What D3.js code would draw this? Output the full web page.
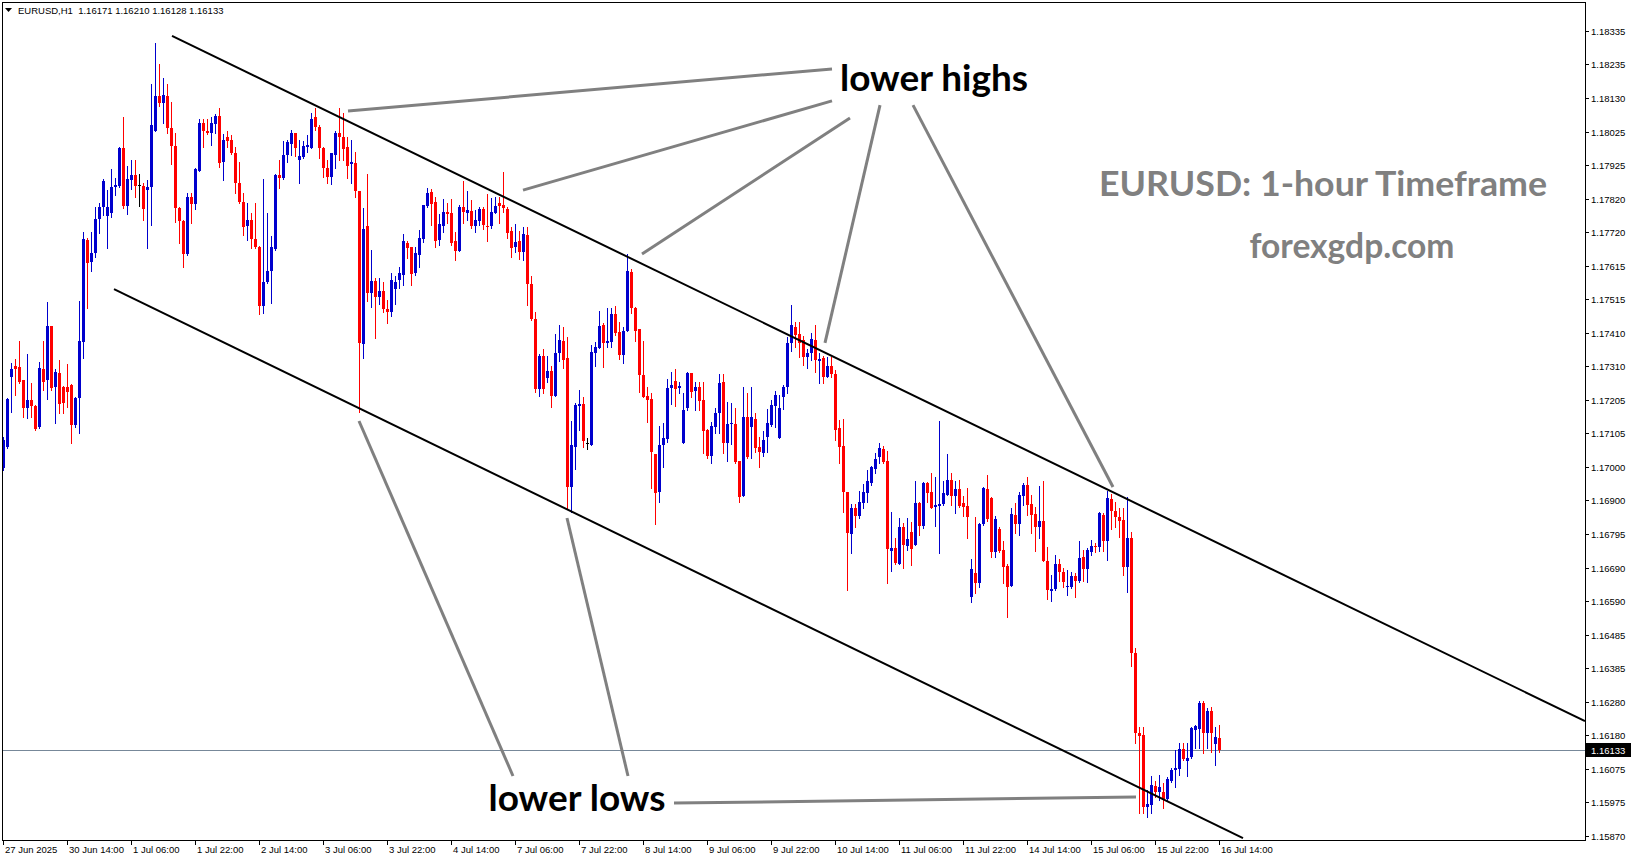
<!DOCTYPE html>
<html><head><meta charset="utf-8">
<script src="https://cdn.jsdelivr.net/npm/d3@7"></script>
<style>html,body{margin:0;padding:0;background:#fff;overflow:hidden}</style>
</head><body><svg id="chart" width="1631" height="861"></svg>
<script>
const symbol = "EURUSD", timeframe = "H1";
const startTime = "2025-06-27T22:00:00Z";

const opens = [
1.16997,1.17061,1.17276,1.17309,1.17306,1.17266,1.17181,1.17205,1.17187,1.17122,
1.17300,1.17266,1.17432,1.17245,1.17288,1.17245,1.17245,1.17251,1.17129,1.17211,
1.17383,1.17695,1.17628,1.17655,1.17759,1.17796,1.17769,1.17778,1.17857,1.17860,
1.17977,1.17799,1.17879,1.17894,1.17863,1.17860,1.17848,1.17857,1.18029,1.18136,
1.18115,1.18136,1.18038,1.17983,1.17793,1.17753,1.17652,1.17827,1.17805,1.17906,
1.18053,1.18029,1.18023,1.18050,1.18075,1.17934,1.18011,1.18001,1.17961,1.17870,
1.17811,1.17738,1.17756,1.17698,1.17674,1.17493,1.17567,1.17600,1.17668,1.17894,
1.17885,1.17955,1.17989,1.18023,1.17940,1.17949,1.17980,1.17977,1.18072,1.18041,
1.17977,1.17916,1.17888,1.17955,1.18023,1.18011,1.17980,1.17928,1.17931,1.17845,
1.17377,1.17738,1.17533,1.17570,1.17521,1.17539,1.17484,1.17475,1.17545,1.17573,
1.17588,1.17686,1.17674,1.17594,1.17649,1.17698,1.17799,1.17842,1.17811,1.17695,
1.17738,1.17781,1.17778,1.17692,1.17662,1.17796,1.17778,1.17784,1.17738,1.17753,
1.17790,1.17738,1.17738,1.17778,1.17808,1.17802,1.17790,1.17723,1.17674,1.17692,
1.17658,1.17710,1.17560,1.17453,1.17239,1.17340,1.17273,1.17294,1.17218,1.17349,
1.17386,1.17334,1.16939,1.17061,1.17187,1.17193,1.17074,1.17067,1.17349,1.17364,
1.17435,1.17380,1.17383,1.17469,1.17413,1.17343,1.17416,1.17597,1.17487,1.17423,
1.17282,1.17217,1.17208,1.17040,1.16923,1.17067,1.17086,1.17242,1.17263,1.17242,
1.17074,1.17181,1.17288,1.17233,1.17245,1.17205,1.17113,1.17034,1.17122,1.17165,
1.17260,1.17074,1.17132,1.17132,1.17019,1.16911,1.17153,1.17122,1.17147,1.17061,
1.17043,1.17092,1.17129,1.17187,1.17089,1.17214,1.17245,1.17380,1.17429,1.17407,
1.17389,1.17337,1.17349,1.17389,1.17325,1.17334,1.17276,1.17309,1.17285,1.17120,
1.17064,1.16923,1.16795,1.16875,1.16850,1.16890,1.16920,1.16951,1.16994,1.17031,
1.17055,1.17019,1.16743,1.16752,1.16703,1.16816,1.16758,1.16801,1.16761,1.16890,
1.16819,1.16951,1.16923,1.16878,1.16881,1.16887,1.16914,1.16960,1.16911,1.16933,
1.16890,1.16881,1.16602,1.16675,1.16645,1.16826,1.16933,1.16905,1.16740,1.16810,
1.16746,1.16697,1.16636,1.16853,1.16826,1.16911,1.16945,1.16887,1.16856,1.16816,
1.16835,1.16712,1.16620,1.16626,1.16703,1.16679,1.16633,1.16633,1.16666,1.16651,
1.16724,1.16688,1.16740,1.16758,1.16755,1.16853,1.16773,1.16902,1.16865,1.16847,
1.16838,1.16694,1.16783,1.16431,1.16186,1.16180,1.15959,1.15965,1.16023,1.16005,
1.16005,1.15983,1.16039,1.16072,1.16076,1.16137,1.16100,1.16112,1.16195,1.16198,
1.16278,1.16186,1.16253,1.16152,1.16171];

const highs = [
1.17092,1.17211,1.17318,1.17331,1.17386,1.17266,1.17346,1.17257,1.17190,1.17321,
1.17386,1.17505,1.17432,1.17300,1.17328,1.17248,1.17315,1.17254,1.17214,1.17508,
1.17720,1.17701,1.17720,1.17796,1.17808,1.17882,1.17848,1.17913,1.17885,1.17980,
1.18072,1.17922,1.17940,1.17940,1.17897,1.17870,1.17879,1.18173,1.18298,1.18234,
1.18191,1.18173,1.18118,1.18023,1.17796,1.17756,1.17839,1.17839,1.17916,1.18066,
1.18066,1.18066,1.18072,1.18081,1.18099,1.18020,1.18029,1.18017,1.17980,1.17934,
1.17839,1.17808,1.17778,1.17808,1.17677,1.17882,1.17778,1.17707,1.17897,1.17940,
1.17998,1.18001,1.18032,1.18023,1.18001,1.17998,1.18017,1.18084,1.18099,1.18047,
1.17980,1.17940,1.17961,1.18029,1.18099,1.18084,1.18011,1.18001,1.17965,1.17845,
1.17793,1.17897,1.17665,1.17579,1.17579,1.17567,1.17512,1.17594,1.17585,1.17612,
1.17713,1.17692,1.17674,1.17674,1.17726,1.17802,1.17854,1.17851,1.17827,1.17775,
1.17821,1.17808,1.17821,1.17720,1.17802,1.17876,1.17845,1.17818,1.17787,1.17796,
1.17796,1.17836,1.17824,1.17827,1.17827,1.17903,1.17796,1.17735,1.17744,1.17723,
1.17735,1.17735,1.17585,1.17475,1.17346,1.17361,1.17340,1.17309,1.17407,1.17435,
1.17429,1.17398,1.17141,1.17196,1.17236,1.17214,1.17089,1.17374,1.17383,1.17478,
1.17441,1.17487,1.17487,1.17493,1.17444,1.17429,1.17652,1.17606,1.17490,1.17423,
1.17386,1.17245,1.17227,1.17040,1.17126,1.17135,1.17270,1.17291,1.17300,1.17260,
1.17227,1.17291,1.17288,1.17260,1.17260,1.17260,1.17116,1.17138,1.17181,1.17285,
1.17285,1.17199,1.17196,1.17181,1.17019,1.17245,1.17227,1.17245,1.17165,1.17092,
1.17111,1.17178,1.17205,1.17233,1.17221,1.17251,1.17398,1.17496,1.17444,1.17444,
1.17401,1.17361,1.17410,1.17435,1.17349,1.17340,1.17337,1.17337,1.17297,1.17144,
1.17147,1.16923,1.16887,1.16887,1.16927,1.16948,1.16991,1.17003,1.17043,1.17074,
1.17065,1.17049,1.16862,1.16782,1.16844,1.16829,1.16844,1.16832,1.16957,1.16893,
1.16954,1.16954,1.16982,1.16970,1.17141,1.16957,1.17040,1.16982,1.16957,1.16960,
1.16911,1.16936,1.16719,1.16847,1.16829,1.16939,1.16976,1.16908,1.16850,1.16816,
1.16773,1.16703,1.16875,1.16890,1.16924,1.16951,1.16969,1.16914,1.16878,1.16942,
1.16957,1.16755,1.16670,1.16731,1.16718,1.16691,1.16685,1.16679,1.16676,1.16773,
1.16746,1.16752,1.16776,1.16767,1.16862,1.16859,1.16927,1.16917,1.16893,1.16875,
1.16875,1.16908,1.16801,1.16446,1.16204,1.16204,1.16011,1.16054,1.16039,1.16057,
1.16033,1.16051,1.16079,1.16134,1.16155,1.16155,1.16155,1.16204,1.16210,1.16284,
1.16284,1.16262,1.16265,1.16204,1.16210];

const lows = [
1.16991,1.17058,1.17168,1.17221,1.17257,1.17153,1.17150,1.17153,1.17113,1.17119,
1.17236,1.17208,1.17236,1.17135,1.17165,1.17165,1.17184,1.17074,1.17122,1.17104,
1.17334,1.17487,1.17600,1.17643,1.17717,1.17772,1.17671,1.17766,1.17833,1.17857,
1.17793,1.17775,1.17851,1.17827,1.17799,1.17756,1.17671,1.17741,1.18029,1.18105,
1.18053,1.18023,1.17928,1.17750,1.17686,1.17612,1.17649,1.17747,1.17790,1.17906,
1.17980,1.18020,1.17986,1.18023,1.17919,1.17879,1.17980,1.17958,1.17839,1.17808,
1.17710,1.17695,1.17671,1.17671,1.17469,1.17472,1.17564,1.17503,1.17665,1.17854,
1.17882,1.17934,1.17955,1.17952,1.17870,1.17946,1.17965,1.17977,1.18032,1.17946,
1.17888,1.17870,1.17867,1.17916,1.17940,1.17940,1.17885,1.17870,1.17827,1.17168,
1.17334,1.17508,1.17490,1.17395,1.17499,1.17475,1.17441,1.17462,1.17499,1.17548,
1.17557,1.17640,1.17557,1.17588,1.17612,1.17689,1.17796,1.17741,1.17674,1.17680,
1.17720,1.17747,1.17680,1.17634,1.17662,1.17747,1.17756,1.17732,1.17720,1.17741,
1.17729,1.17692,1.17732,1.17778,1.17747,1.17781,1.17701,1.17643,1.17658,1.17637,
1.17634,1.17496,1.17450,1.17230,1.17218,1.17227,1.17260,1.17184,1.17218,1.17325,
1.17303,1.16875,1.16862,1.16994,1.17113,1.17061,1.17055,1.17067,1.17309,1.17364,
1.17306,1.17368,1.17368,1.17404,1.17331,1.17318,1.17416,1.17472,1.17386,1.17230,
1.17214,1.17138,1.16936,1.16826,1.16893,1.17000,1.17077,1.17193,1.17187,1.17227,
1.17074,1.17175,1.17214,1.17175,1.17175,1.17043,1.17028,1.17012,1.17104,1.17104,
1.17043,1.17019,1.17071,1.17012,1.16893,1.16911,1.17028,1.17028,1.17046,1.17000,
1.17034,1.17046,1.17126,1.17122,1.17089,1.17178,1.17227,1.17355,1.17368,1.17337,
1.17312,1.17303,1.17328,1.17291,1.17257,1.17257,1.17276,1.17276,1.17083,1.17012,
1.16862,1.16623,1.16737,1.16816,1.16844,1.16875,1.16893,1.16945,1.16982,1.17012,
1.17012,1.16645,1.16683,1.16703,1.16703,1.16691,1.16746,1.16700,1.16761,1.16792,
1.16813,1.16893,1.16875,1.16819,1.16737,1.16884,1.16914,1.16884,1.16859,1.16878,
1.16850,1.16783,1.16587,1.16614,1.16633,1.16823,1.16835,1.16725,1.16725,1.16740,
1.16645,1.16541,1.16636,1.16798,1.16792,1.16884,1.16853,1.16798,1.16743,1.16783,
1.16712,1.16596,1.16590,1.16623,1.16651,1.16633,1.16608,1.16630,1.16602,1.16648,
1.16651,1.16648,1.16731,1.16740,1.16743,1.16743,1.16715,1.16810,1.16816,1.16786,
1.16670,1.16617,1.16391,1.16155,1.15941,1.15941,1.15929,1.15941,1.15990,1.15980,
1.15956,1.15980,1.16036,1.16020,1.16057,1.16103,1.16054,1.16109,1.16140,1.16140,
1.16125,1.16140,1.16128,1.16088,1.16128];

const closes = [
1.17083,1.17208,1.17300,1.17300,1.17260,1.17181,1.17205,1.17187,1.17116,1.17303,
1.17260,1.17432,1.17242,1.17291,1.17193,1.17196,1.17230,1.17129,1.17211,1.17386,
1.17698,1.17625,1.17655,1.17759,1.17796,1.17876,1.17796,1.17857,1.17863,1.17977,
1.17799,1.17882,1.17894,1.17860,1.17863,1.17790,1.17857,1.18047,1.18136,1.18115,
1.18139,1.18038,1.17983,1.17793,1.17753,1.17652,1.17827,1.17805,1.17913,1.18053,
1.18029,1.18023,1.18053,1.18075,1.17931,1.18001,1.17998,1.17961,1.17870,1.17811,
1.17735,1.17756,1.17698,1.17674,1.17493,1.17567,1.17600,1.17674,1.17894,1.17885,
1.17955,1.17995,1.18023,1.17977,1.17952,1.17983,1.17986,1.18066,1.18041,1.17977,
1.17916,1.17888,1.17961,1.18023,1.18011,1.17974,1.17922,1.17934,1.17845,1.17380,
1.17729,1.17533,1.17570,1.17521,1.17539,1.17484,1.17475,1.17573,1.17567,1.17594,
1.17692,1.17671,1.17591,1.17655,1.17701,1.17802,1.17839,1.17805,1.17692,1.17744,
1.17781,1.17775,1.17686,1.17662,1.17796,1.17781,1.17787,1.17738,1.17756,1.17790,
1.17741,1.17735,1.17781,1.17799,1.17799,1.17793,1.17717,1.17671,1.17689,1.17658,
1.17713,1.17560,1.17453,1.17239,1.17340,1.17239,1.17294,1.17218,1.17349,1.17389,
1.17328,1.16939,1.17067,1.17190,1.17193,1.17080,1.17074,1.17352,1.17368,1.17432,
1.17380,1.17386,1.17469,1.17410,1.17343,1.17416,1.17600,1.17487,1.17416,1.17282,
1.17214,1.17205,1.17046,1.16920,1.17067,1.17089,1.17242,1.17251,1.17239,1.17248,
1.17175,1.17288,1.17230,1.17245,1.17202,1.17111,1.17034,1.17126,1.17165,1.17257,
1.17074,1.17132,1.17135,1.17016,1.16908,1.17153,1.17031,1.17153,1.17058,1.17046,
1.17083,1.17135,1.17190,1.17221,1.17181,1.17245,1.17380,1.17435,1.17404,1.17380,
1.17337,1.17349,1.17392,1.17328,1.17331,1.17276,1.17309,1.17285,1.17113,1.17061,
1.16923,1.16798,1.16875,1.16850,1.16893,1.16923,1.16957,1.17000,1.17025,1.17058,
1.17016,1.16749,1.16752,1.16706,1.16816,1.16761,1.16780,1.16749,1.16890,1.16819,
1.16951,1.16920,1.16875,1.16884,1.16887,1.16920,1.16960,1.16911,1.16933,1.16881,
1.16878,1.16847,1.16688,1.16645,1.16826,1.16936,1.16841,1.16740,1.16841,1.16743,
1.16694,1.16633,1.16856,1.16826,1.16914,1.16945,1.16884,1.16853,1.16816,1.16835,
1.16712,1.16623,1.16626,1.16703,1.16679,1.16648,1.16636,1.16666,1.16651,1.16721,
1.16688,1.16746,1.16758,1.16755,1.16859,1.16773,1.16905,1.16865,1.16847,1.16835,
1.16694,1.16783,1.16431,1.16186,1.16176,1.15959,1.15968,1.16026,1.16005,1.16020,
1.15980,1.16045,1.16072,1.16079,1.16137,1.16106,1.16109,1.16201,1.16207,1.16278,
1.16186,1.16253,1.16186,1.16174,1.16133];

const priceTicks = [1.18335,1.18235,1.18130,1.18025,1.17925,1.17820,1.17720,1.17615,1.17515,1.17410,
  1.17310,1.17205,1.17105,1.17000,1.16900,1.16795,1.16690,1.16590,1.16485,1.16385,
  1.16280,1.16180,1.16075,1.15975,1.15870];
const timeLabelEvery = 16;

// trend channel (bar index, price)
const channelLines = [
  [[42.25, 1.18320], [395.5, 1.16222]],
  [[27.75, 1.17545], [310, 1.15864]]
];
// pointer lines (bar index, price)
const highPointers = [
  [[86.25, 1.18090], [207.25, 1.18219]],
  [[130, 1.17848], [207.25, 1.18121]],
  [[159.75, 1.17652], [211.75, 1.18069]],
  [[205.5, 1.17380], [219.25, 1.18108]],
  [[277.5, 1.16939], [227.5, 1.18108]]
];
const lowPointers = [
  [[89, 1.17141], [127.5, 1.16054]],
  [[141, 1.16844], [156.25, 1.16054]],
  [[167.75, 1.15971], [283.25, 1.15990]]
];

const W = 1631, H = 861;
const plot = {left: 2, top: 2, right: 1585, bottom: 840};
const visibleBars = 395.5;
const svg = d3.select("#chart");
svg.append("rect").attr("width", W).attr("height", H).attr("fill", "#fff");

const x = d3.scaleLinear().domain([0, visibleBars]).range([3, plot.right]);
const y = d3.scaleLinear().domain([1.15858, 1.18430]).range([plot.bottom, 0]);

svg.append("clipPath").attr("id", "clip").append("rect")
  .attr("x", plot.left).attr("y", plot.top)
  .attr("width", plot.right - plot.left).attr("height", plot.bottom - plot.top);

const g = svg.append("g").attr("clip-path", "url(#clip)");
const N = closes.length;
const last = N - 1;

// current price line
g.append("line").attr("x1", plot.left).attr("x2", plot.right)
  .attr("y1", Math.round(y(closes[last])) + 0.5).attr("y2", Math.round(y(closes[last])) + 0.5)
  .attr("stroke", "#778899").attr("stroke-width", 1);

const bull = "#0000cd", bear = "#ff0000", dojiCol = "#000000";
const col = i => closes[i] > opens[i] ? bull : (closes[i] < opens[i] ? bear : dojiCol);
const idx = d3.range(N);
const cg = g.append("g").attr("shape-rendering", "crispEdges");
cg.selectAll("line.w").data(idx).join("line").attr("class", "w")
  .attr("x1", i => Math.round(x(i)) + 0.5).attr("x2", i => Math.round(x(i)) + 0.5)
  .attr("y1", i => Math.round(y(highs[i]))).attr("y2", i => Math.round(y(lows[i])) + 1)
  .attr("stroke", col).attr("stroke-width", 1);
cg.selectAll("rect.b").data(idx).join("rect").attr("class", "b")
  .attr("x", i => Math.round(x(i)) - 1).attr("width", 3)
  .attr("y", i => Math.round(y(Math.max(opens[i], closes[i]))))
  .attr("height", i => Math.max(1, Math.round(y(Math.min(opens[i], closes[i]))) - Math.round(y(Math.max(opens[i], closes[i])))))
  .attr("fill", col);

// channel
const ln = d3.line().x(d => x(d[0])).y(d => y(d[1]));
g.selectAll("path.ch").data(channelLines).join("path").attr("class", "ch")
  .attr("d", ln).attr("stroke", "#000").attr("stroke-width", 2).attr("fill", "none");
g.selectAll("path.ptr").data(highPointers.concat(lowPointers)).join("path").attr("class", "ptr")
  .attr("d", ln).attr("stroke", "#808080").attr("stroke-width", 3).attr("fill", "none");

// annotation texts
const txt = (s, tx, ty, size, fill, len) => {
  const t = svg.append("text").attr("x", tx).attr("y", ty).attr("text-anchor", "middle")
    .attr("font-family", "Lato, 'Open Sans', sans-serif").attr("font-weight", 700)
    .attr("font-size", size).attr("fill", fill).text(s);
  if (len) t.attr("textLength", len).attr("lengthAdjust", "spacingAndGlyphs");
};
txt("lower highs", 934, 91, 37, "#000", 188);
txt("lower lows", 577, 811, 37, "#000", 177);
txt("EURUSD: 1-hour Timeframe", 1323, 196, 34, "#808080", 448);
txt("forexgdp.com", 1352, 258, 34, "#808080", 205);

// frame
svg.append("rect").attr("x", plot.left + 0.5).attr("y", plot.top + 0.5)
  .attr("width", plot.right - plot.left).attr("height", plot.bottom - plot.top)
  .attr("fill", "none").attr("stroke", "#000").attr("stroke-width", 1);

const axFont = "'Liberation Sans', Arial, sans-serif";
// right axis
const ya = svg.append("g").attr("shape-rendering", "crispEdges");
priceTicks.forEach(p => {
  const yy = Math.round(y(p)) + 0.5;
  ya.append("line").attr("x1", plot.right).attr("x2", plot.right + 4).attr("y1", yy).attr("y2", yy).attr("stroke", "#000");
  ya.append("text").attr("x", plot.right + 6).attr("y", yy + 3.5).attr("font-family", axFont)
    .attr("font-size", 9.5).attr("fill", "#000").text(p.toFixed(5));
});
// current price label
const cy = Math.round(y(closes[last]));
svg.append("rect").attr("x", plot.right + 1).attr("y", cy - 7).attr("width", W - plot.right - 1).attr("height", 14).attr("fill", "#000");
svg.append("text").attr("x", plot.right + 6).attr("y", cy + 3.5).attr("font-family", axFont)
  .attr("font-size", 9.5).attr("fill", "#fff").text(closes[last].toFixed(5));

// time axis
const times = [];
let t = new Date(startTime);
while (times.length < N) {
  const d = t.getUTCDay();
  if (d !== 0 && d !== 6) times.push(new Date(t));
  t = new Date(t.getTime() + 3600000);
}
const mon = ["Jan","Feb","Mar","Apr","May","Jun","Jul","Aug","Sep","Oct","Nov","Dec"];
const pad = v => String(v).padStart(2, "0");
const xa = svg.append("g").attr("shape-rendering", "crispEdges");
for (let i = 0; i < N; i += timeLabelEvery) {
  const tm = times[i];
  const lab = i === 0 ? `${tm.getUTCDate()} ${mon[tm.getUTCMonth()]} ${tm.getUTCFullYear()}`
    : `${tm.getUTCDate()} ${mon[tm.getUTCMonth()]} ${pad(tm.getUTCHours())}:${pad(tm.getUTCMinutes())}`;
  const xx = Math.round(x(i)) + 0.5;
  xa.append("line").attr("x1", xx).attr("x2", xx).attr("y1", plot.bottom).attr("y2", plot.bottom + 5).attr("stroke", "#000");
  xa.append("text").attr("x", xx + 1.5).attr("y", plot.bottom + 13).attr("font-family", axFont)
    .attr("font-size", 9.5).attr("fill", "#000").text(lab);
}

// header
svg.append("path").attr("d", "M5,8 L12,8 L8.5,12 Z").attr("fill", "#000");
svg.append("text").attr("x", 18).attr("y", 14).attr("font-family", axFont).attr("font-size", 9.5)
  .attr("fill", "#000").style("white-space", "pre")
  .text(`${symbol},${timeframe}  ${opens[last].toFixed(5)} ${highs[last].toFixed(5)} ${lows[last].toFixed(5)} ${closes[last].toFixed(5)}`);
</script>
</body></html>
